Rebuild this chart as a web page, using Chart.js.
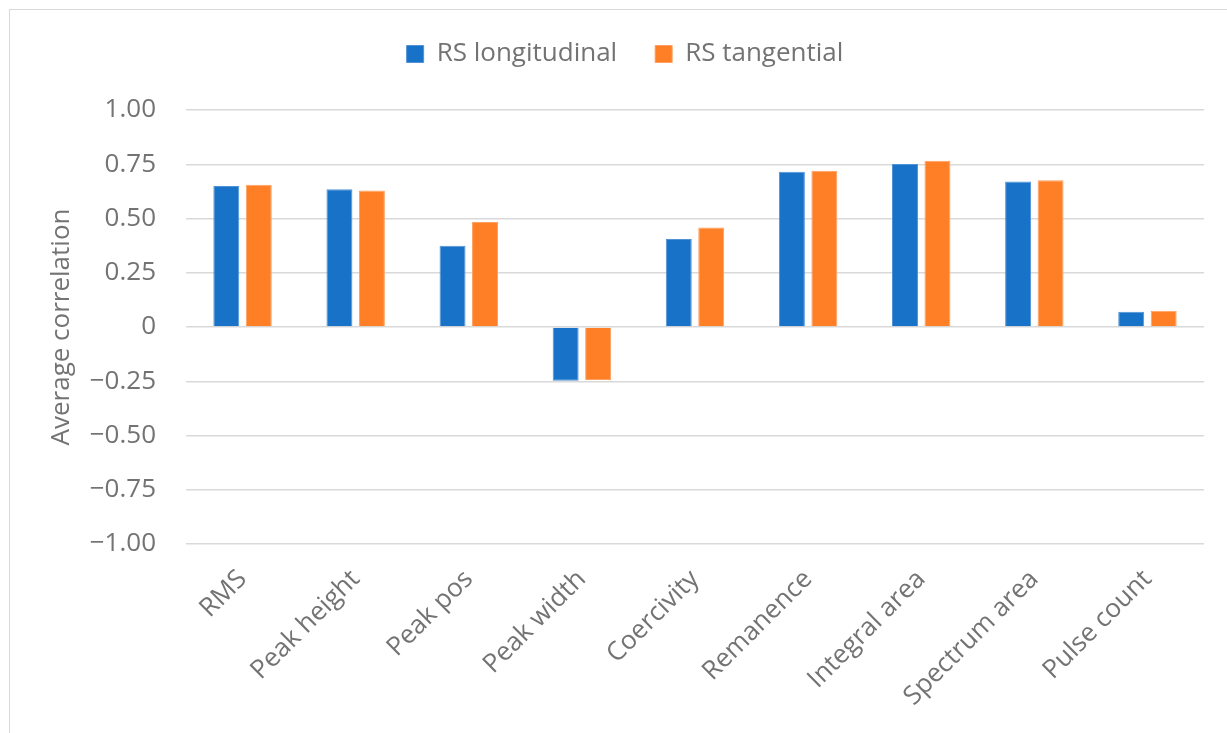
<!DOCTYPE html>
<html>
<head>
<meta charset="utf-8">
<title>Average correlation</title>
<script src="https://cdn.jsdelivr.net/npm/chart.js@4.4.1/dist/chart.umd.min.js"></script>
<style>
    html, body {
        margin: 0;
        padding: 0;
        background: #fff;
        overflow: hidden;
    }
    #frame {
        position: absolute;
        left: 9px;
        top: 9px;
        width: 1300px;
        height: 800px;
        border: 1.5px solid #d9d9d9;
    }
    #wrap {
        position: absolute;
        left: 0;
        top: 0;
        width: 1227px;
        height: 733px;
    }
</style>
</head>
<body>
<div id="frame"></div>
<div id="wrap"><canvas id="correlation-chart"></canvas></div>
<script>
    'use strict';

    // Feature names along the x axis
    var categories = ['RMS', 'Peak height', 'Peak pos', 'Peak width', 'Coercivity',
        'Remanence', 'Integral area', 'Spectrum area', 'Pulse count'];

    // Average correlation per feature
    var longitudinal = [0.650, 0.635, 0.375, -0.248, 0.406, 0.716, 0.751, 0.671, 0.070];
    var tangential = [0.655, 0.629, 0.484, -0.244, 0.458, 0.720, 0.766, 0.676, 0.075];

    // Y axis tick values and their labels
    var yTickValues = [1, 0.75, 0.5, 0.25, 0, -0.25, -0.5, -0.75, -1];
    var yTickLabels = ['1.00', '0.75', '0.50', '0.25', '0', '\u22120.25', '\u22120.50', '\u22120.75', '\u22121.00'];

    var textColor = '#737373';
    var gridColor = '#d9d9d9';
    var fontFamily = '"Open Sans", "Noto Sans", sans-serif';

    // Push the plot area down below the legend and nudge the legend right
    var legendSpacing = {
        id: 'legendSpacing',
        beforeInit: function(chart) {
            var fit = chart.legend.fit;
            chart.legend.fit = function() {
                fit.call(this);
                this.height = 107;
            };
        },
        afterLayout: function(chart) {
            chart.legend.left += 23;
            chart.legend.right += 23;
        }
    };

    function renderChart() {
        var ctx = document.getElementById('correlation-chart').getContext('2d');

        new Chart(ctx, {
            type: 'bar',
            data: {
                labels: categories,
                datasets: [{
                    label: 'RS longitudinal',
                    data: longitudinal,
                    backgroundColor: '#1772c8',
                    borderColor: '#4f93d6',
                    borderWidth: 1
                }, {
                    label: 'RS tangential',
                    data: tangential,
                    backgroundColor: '#ff7f27',
                    borderColor: '#ffa060',
                    borderWidth: 1
                }]
            },
            options: {
                responsive: true,
                maintainAspectRatio: false,
                animation: false,
                categoryPercentage: 0.574,
                barPercentage: 0.8,
                layout: {
                    padding: { left: 0, right: 23, top: 3, bottom: 0 }
                },
                plugins: {
                    legend: {
                        position: 'top',
                        labels: {
                            boxWidth: 17,
                            boxHeight: 17,
                            padding: 38,
                            color: textColor,
                            font: { family: fontFamily, size: 26 }
                        }
                    },
                    tooltip: { enabled: false }
                },
                scales: {
                    y: {
                        min: -1,
                        max: 1,
                        afterFit: function(scale) {
                            scale.width = 186;
                        },
                        afterBuildTicks: function(scale) {
                            scale.ticks = yTickValues.slice().reverse().map(function(v) {
                                return { value: v };
                            });
                        },
                        ticks: {
                            padding: 30,
                            color: textColor,
                            font: { family: fontFamily, size: 26 },
                            callback: function(value) {
                                var i = yTickValues.indexOf(value);
                                return i >= 0 ? yTickLabels[i] : '';
                            }
                        },
                        grid: {
                            color: gridColor,
                            lineWidth: 1.5,
                            drawTicks: false
                        },
                        border: { display: false },
                        title: {
                            display: true,
                            text: 'Average correlation',
                            color: textColor,
                            padding: { top: 46, bottom: 0 },
                            font: { family: fontFamily, size: 26 }
                        }
                    },
                    x: {
                        afterFit: function(scale) {
                            scale.height = 189;
                        },
                        ticks: {
                            minRotation: 45,
                            maxRotation: 45,
                            padding: 20,
                            color: textColor,
                            font: { family: fontFamily, size: 26 }
                        },
                        grid: { display: false, drawTicks: false },
                        border: { display: false }
                    }
                }
            },
            plugins: [legendSpacing]
        });
    }

    renderChart();
</script>
</body>
</html>
